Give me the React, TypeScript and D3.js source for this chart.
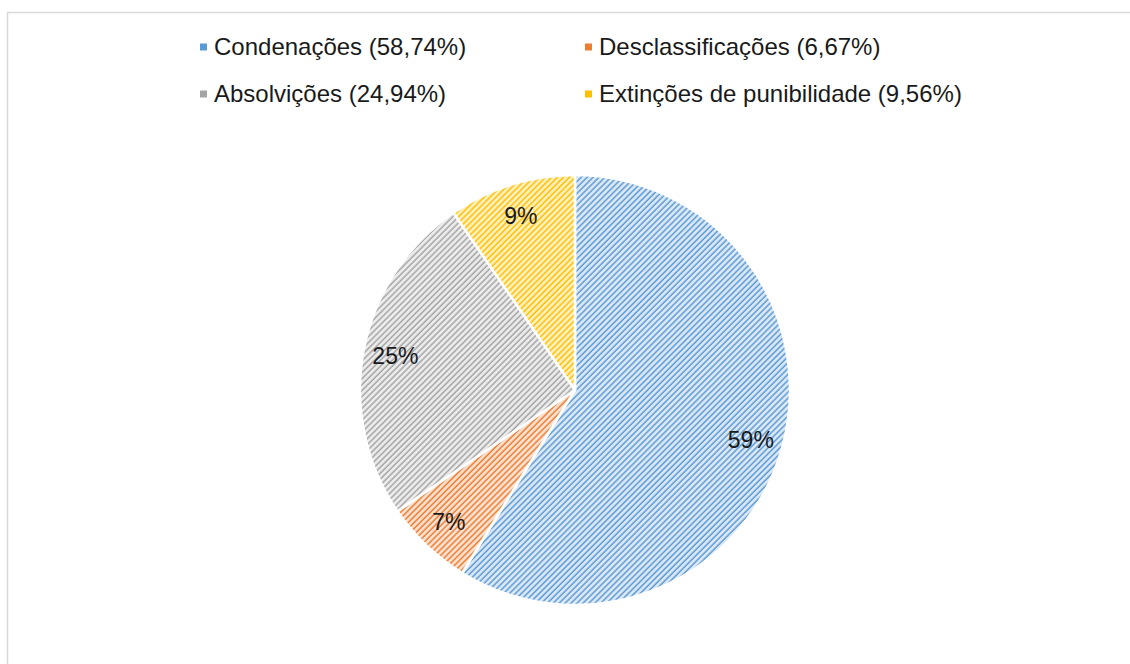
import React, { useEffect, useRef } from "react";
import * as d3 from "d3";

const categories = ["Condenações", "Desclassificações", "Absolvições", "Extinções de punibilidade"];
const values = [58.74, 6.67, 24.94, 9.56];
const legendLabels = ["Condenações (58,74%)", "Desclassificações (6,67%)", "Absolvições (24,94%)", "Extinções de punibilidade (9,56%)"];
const sliceLabels = ["59%", "7%", "25%", "9%"];
const colors = ["#5b9bd5", "#ed7d31", "#a5a5a5", "#ffc000"];
const lightColors = ["#dce8f6", "#fbe2d2", "#ececec", "#fff0c2"];

export default function App() {
  const ref = useRef<SVGSVGElement>(null);

  useEffect(() => {
    const svg = d3.select(ref.current);
    svg.selectAll("*").remove();
    const width = 1130;
    const height = 664;
    const cx = 575;
    const cy = 390;
    const radius = 215;
    const font = "'Liberation Sans', Arial, sans-serif";

    svg.attr("width", width).attr("height", height);

    // chart area border (only top and left visible)
    svg.append("path")
      .attr("d", `M7.5,${height} V12.5 H${width}`)
      .attr("fill", "none")
      .attr("stroke", "#d9d9d9")
      .attr("stroke-width", 1.5);

    const defs = svg.append("defs");
    categories.forEach((c, i) => {
      const p = defs.append("pattern")
        .attr("id", `hatch${i}`)
        .attr("patternUnits", "userSpaceOnUse")
        .attr("width", 4.2)
        .attr("height", 4.2)
        .attr("patternTransform", "rotate(45)");
      p.append("rect").attr("width", 4.2).attr("height", 4.2).attr("fill", lightColors[i]);
      p.append("line")
        .attr("x1", 1).attr("y1", 0).attr("x2", 1).attr("y2", 4.2)
        .attr("stroke", colors[i])
        .attr("stroke-width", 1.5);
    });

    const pie = d3.pie<number>().sort(null).value((d) => d);
    const arcs = pie(values);
    const arc = d3.arc<d3.PieArcDatum<number>>().innerRadius(0).outerRadius(radius);
    const labelArc = d3.arc<d3.PieArcDatum<number>>().innerRadius(radius * 0.85).outerRadius(radius * 0.85);

    const g = svg.append("g").attr("transform", `translate(${cx},${cy})`);
    g.selectAll("path.slice")
      .data(arcs)
      .enter()
      .append("path")
      .attr("class", "slice")
      .attr("d", arc)
      .attr("fill", (d, i) => `url(#hatch${i})`)
      .attr("stroke", "#ffffff")
      .attr("stroke-width", 2.5)
      .attr("stroke-linejoin", "round");

    g.selectAll("text.lbl")
      .data(arcs)
      .enter()
      .append("text")
      .attr("class", "lbl")
      .attr("transform", (d) => `translate(${labelArc.centroid(d)})`)
      .attr("text-anchor", "middle")
      .attr("dy", "0.35em")
      .style("font-family", font)
      .style("font-size", "23px")
      .style("fill", "#1a1a1a")
      .text((d, i) => sliceLabels[i]);

    // legend, two rows of two
    const legendX = [203.5, 588.5];
    const legendY = [47, 94];
    legendLabels.forEach((t, i) => {
      const lx = legendX[i % 2];
      const ly = legendY[Math.floor(i / 2)];
      svg.append("rect")
        .attr("x", lx - 3.5)
        .attr("y", ly - 3.5)
        .attr("width", 7)
        .attr("height", 7)
        .attr("fill", colors[i]);
      svg.append("text")
        .attr("x", lx + 10.5)
        .attr("y", ly)
        .attr("dy", "0.35em")
        .style("font-family", font)
        .style("font-size", "24px")
        .style("fill", "#1a1a1a")
        .text(t);
    });
  }, []);

  return (
    <svg ref={ref} style={{ position: "absolute", left: 0, top: 0, background: "#fff" }} />
  );
}
